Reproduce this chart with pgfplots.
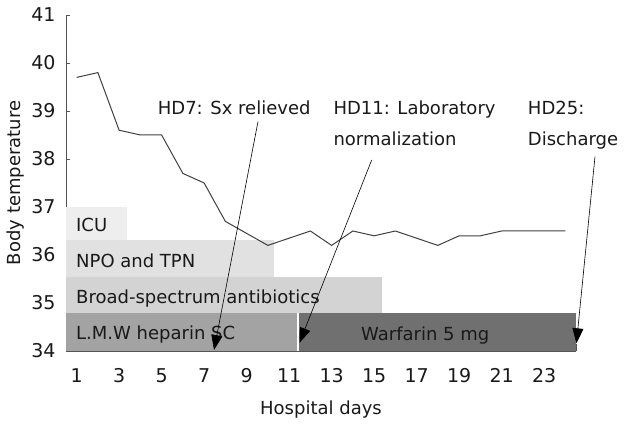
\documentclass[border=0pt]{standalone}
\usepackage{pgfplots}
\pgfplotsset{compat=1.18}
\usetikzlibrary{arrows.meta}
\usepackage{fontspec}
\setmainfont{DejaVu Sans}
\definecolor{icu}{HTML}{EEEEEE}
\definecolor{npo}{HTML}{E1E1E1}
\definecolor{broad}{HTML}{D3D3D3}
\definecolor{lmw}{HTML}{A3A3A3}
\definecolor{warf}{HTML}{707070}
\definecolor{axisgray}{HTML}{555555}
\definecolor{linegray}{HTML}{404040}
\newcommand{\fs}{\fontsize{18bp}{21bp}\selectfont}
\newcommand{\ft}{\fontsize{19bp}{22bp}\selectfont}
\begin{document}
\begin{tikzpicture}
\path[use as bounding box] (0,0) rectangle (627bp,429bp);
\begin{axis}[
 at={(66bp,78bp)}, anchor=south west,
 scale only axis, width=510bp, height=336bp,
 xmin=0.5, xmax=24.5, ymin=34, ymax=41,
 axis x line*=bottom, axis y line*=left,
 axis line style={draw=axisgray, line width=0.8bp},
 tick align=inside,
 tick style={axisgray, line width=0.8bp},
 major tick length=7bp,
 xtick={1.5,2.5,...,24.5}, xticklabels={},
 extra x ticks={1,3,...,23},
 extra x tick style={major tick length=0pt, xticklabel style={anchor=base, yshift=-31bp}},
 ytick=\empty,
 extra y ticks={34,35,...,41},
 extra y tick style={major tick length=4bp, yticklabel style={anchor=east, xshift=-7bp}},
 /pgf/number format/assume math mode=true,
 tick label style={font=\ft, text=black!90},
 xlabel={Hospital days}, ylabel={Body temperature},
 every axis x label/.style={at={(axis description cs:0.5,-0.1756)}, anchor=center, font=\fs, text=black!90},
 every axis y label/.style={at={(axis description cs:-0.099,0.5)}, rotate=90, anchor=center, font=\fs, text=black!90},
 clip=false,
]
% treatment bands
\addplot[fill=icu, draw=none] coordinates {(0.5,36.31) (3.36,36.31) (3.36,37.0) (0.5,37.0)} -- cycle;
\addplot[fill=npo, draw=none] coordinates {(0.5,35.54) (10.29,35.54) (10.29,36.31) (0.5,36.31)} -- cycle;
\addplot[fill=broad, draw=none] coordinates {(0.5,34.785) (15.36,34.785) (15.36,35.54) (0.5,35.54)} -- cycle;
\addplot[fill=lmw, draw=none] coordinates {(0.5,34) (11.39,34) (11.39,34.785) (0.5,34.785)} -- cycle;
\addplot[fill=warf, draw=none] coordinates {(11.47,34) (24.5,34) (24.5,34.785) (11.47,34.785)} -- cycle;
% temperature
\addplot[linegray, line width=1bp] coordinates {
(1,39.7) (2,39.8) (3,38.6) (4,38.5) (5,38.5) (6,37.7) (7,37.5) (8,36.7)
(9,36.45) (10,36.2) (11,36.35) (12,36.5) (13,36.2) (14,36.5) (15,36.4) (16,36.5)
(17,36.35) (18,36.2) (19,36.4) (20,36.4) (21,36.5) (22,36.5) (23,36.5) (24,36.5)};
% band labels
\node[anchor=base west, inner sep=0, font=\fs, text=black!90] at (axis cs:0.97,36.49) {ICU};
\node[anchor=base west, inner sep=0, font=\fs, text=black!90] at (axis cs:0.97,35.735) {NPO and TPN};
\node[anchor=base west, inner sep=0, font=\fs, text=black!90] at (axis cs:0.97,34.99) {Broad-spectrum antibiotics};
\node[anchor=base west, inner sep=0, font=\fs, text=black!90] at (axis cs:0.97,34.23) {L.M.W heparin SC};
\node[anchor=base west, inner sep=0, font=\fs, text=black!90] at (axis cs:14.38,34.21) {Warfarin 5 mg};
% annotations
\node[anchor=base west, inner sep=0, font=\fs, text=black!90] at (axis cs:4.815,38.917) {HD7: Sx relieved};
\node[anchor=base west, inner sep=0, font=\fs, text=black!90] at (axis cs:13.08,38.917) {HD11: Laboratory};
\node[anchor=base west, inner sep=0, font=\fs, text=black!90] at (axis cs:13.08,38.29) {normalization};
\node[anchor=base west, inner sep=0, font=\fs, text=black!90] at (axis cs:22.23,38.917) {HD25:};
\node[anchor=base west, inner sep=0, font=\fs, text=black!90] at (axis cs:22.23,38.29) {Discharge};
\draw[black, line width=0.6bp, -{Triangle[length=15bp,width=11bp]}] (axis cs:9.535,38.78) -- (axis cs:7.465,34.02);
\draw[black, line width=0.6bp, -{Triangle[length=15bp,width=11bp]}] (axis cs:14.886,37.98) -- (axis cs:11.488,34.17);
\draw[black, line width=0.6bp, -{Triangle[length=15bp,width=11bp]}] (axis cs:25.394,38.05) -- (axis cs:24.52,34.16);
\end{axis}
\end{tikzpicture}
\end{document}
